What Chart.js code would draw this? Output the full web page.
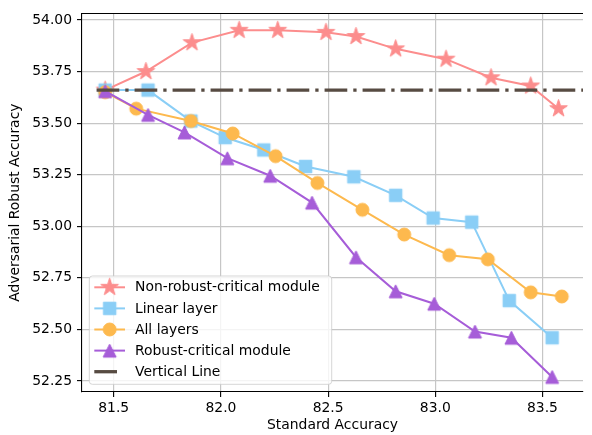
<!DOCTYPE html>
<html><head><meta charset="utf-8">
<script src="https://cdn.jsdelivr.net/npm/chart.js@4.4.1/dist/chart.umd.min.js"></script>
<style>html,body{margin:0;padding:0;background:#fff;overflow:hidden}#wrap{width:592px;height:435px}</style>
</head><body><div id="wrap"><canvas id="c" width="592" height="435"></canvas></div>
<script>
// ---- data ----
const seriesNames = ["Non-robust-critical module", "Linear layer", "All layers", "Robust-critical module", "Vertical Line"];
const starX = [81.46, 81.65, 81.865, 82.085, 82.265, 82.49, 82.63, 82.815, 83.05, 83.26, 83.445, 83.575];
const starY = [53.66, 53.75, 53.89, 53.95, 53.95, 53.94, 53.92, 53.86, 53.81, 53.72, 53.68, 53.57];
const linearX = [81.46, 81.66, 81.86, 82.02, 82.2, 82.395, 82.62, 82.815, 82.99, 83.17, 83.345, 83.545];
const linearY = [53.66, 53.66, 53.51, 53.43, 53.37, 53.29, 53.24, 53.15, 53.04, 53.02, 52.64, 52.46];
const allX = [81.46, 81.605, 81.86, 82.055, 82.255, 82.45, 82.66, 82.855, 83.065, 83.245, 83.445, 83.59];
const allY = [53.65, 53.57, 53.51, 53.45, 53.34, 53.21, 53.08, 52.96, 52.86, 52.84, 52.68, 52.66];
const robustX = [81.46, 81.66, 81.83, 82.03, 82.23, 82.425, 82.63, 82.815, 82.995, 83.185, 83.355, 83.545];
const robustY = [53.655, 53.54, 53.455, 53.33, 53.245, 53.115, 52.85, 52.685, 52.625, 52.49, 52.46, 52.27];
const refLineX = [81.42, 83.8];
const refLineY = [53.66, 53.66];
const xTicks = [81.5, 82.0, 82.5, 83.0, 83.5];
const yTicks = [52.25, 52.5, 52.75, 53.0, 53.25, 53.5, 53.75, 54.0];

// ---- styling ----
const FONT = "'DejaVu Sans', 'Liberation Sans', sans-serif";
const FS = 13.9;
const colors = ['#FC8D8D', '#8ACEF6', '#FDB94E', '#A65DD8', '#574B42'];

function markerCanvas(shape, color, size) {
  const pad = 2;
  const d = Math.ceil(size + pad * 2);
  const c = document.createElement('canvas');
  c.width = d; c.height = d;
  const g = c.getContext('2d');
  const cx = d / 2, cy = d / 2;
  g.fillStyle = color; g.strokeStyle = color; g.lineWidth = 1; g.lineJoin = 'miter';
  g.beginPath();
  if (shape === 'star') {
    const R = size / 2, r = R * 0.381966;
    for (let k = 0; k < 10; k++) {
      const a = -Math.PI / 2 + k * Math.PI / 5;
      const rr = k % 2 ? r : R;
      const px = cx + rr * Math.cos(a), py = cy + rr * Math.sin(a);
      if (k) g.lineTo(px, py); else g.moveTo(px, py);
    }
    g.closePath();
  } else if (shape === 'square') {
    g.rect(cx - size / 2, cy - size / 2, size, size);
  } else if (shape === 'circle') {
    g.arc(cx, cy, size / 2, 0, Math.PI * 2);
  } else if (shape === 'triangle') {
    g.moveTo(cx, cy - size / 2);
    g.lineTo(cx + size / 2, cy + size / 2);
    g.lineTo(cx - size / 2, cy + size / 2);
    g.closePath();
  }
  g.fill(); g.stroke();
  return c;
}
const markers = [
  markerCanvas('star', colors[0], 18.5),
  markerCanvas('square', colors[1], 12.5),
  markerCanvas('circle', colors[2], 13),
  markerCanvas('triangle', colors[3], 13),
  null
];

const pts = (xs, ys) => xs.map((x, i) => ({ x: x, y: ys[i] }));
const seriesX = [starX, linearX, allX, robustX, refLineX];
const seriesY = [starY, linearY, allY, robustY, refLineY];
const DASH = [22.7, 6, 3.3, 6];

const datasets = seriesNames.map((name, i) => {
  const isRef = i === 4;
  return {
    label: name,
    data: pts(seriesX[i], seriesY[i]),
    showLine: true,
    borderColor: colors[i],
    backgroundColor: colors[i],
    borderWidth: isRef ? 3.3 : 2,
    borderDash: isRef ? DASH : [],
    borderCapStyle: 'butt',
    pointStyle: isRef ? false : markers[i],
    pointRadius: isRef ? 0 : 7,
    pointHoverRadius: isRef ? 0 : 7,
    order: 4 - i,
    clip: 0
  };
});

const frameAndLegend = {
  id: 'frameAndLegend',
  afterDraw(chart) {
    const ctx = chart.ctx, ca = chart.chartArea;
    // top spine
    ctx.save();
    ctx.strokeStyle = '#000'; ctx.lineWidth = 1.1;
    ctx.beginPath(); ctx.moveTo(ca.left, Math.round(ca.top) + 0.5); ctx.lineTo(ca.right, Math.round(ca.top) + 0.5); ctx.stroke();
    // legend box
    const bw = 242.4, bh = 108.3;
    const bx = ca.left + 7.3, by = ca.bottom - 7.7 - bh;
    const rad = 3;
    ctx.beginPath();
    ctx.moveTo(bx + rad, by);
    ctx.arcTo(bx + bw, by, bx + bw, by + bh, rad);
    ctx.arcTo(bx + bw, by + bh, bx, by + bh, rad);
    ctx.arcTo(bx, by + bh, bx, by, rad);
    ctx.arcTo(bx, by, bx + bw, by, rad);
    ctx.closePath();
    ctx.fillStyle = 'rgba(255,255,255,0.8)';
    ctx.fill();
    ctx.strokeStyle = 'rgba(204,204,204,0.8)'; ctx.lineWidth = 1;
    ctx.stroke();
    ctx.font = FS + 'px ' + FONT;
    ctx.textBaseline = 'middle'; ctx.textAlign = 'left';
    seriesNames.forEach((name, i) => {
      const y = by + 11.3 + i * 21.1;
      const hx0 = bx + 5, hx1 = bx + 35.7, hc = (hx0 + hx1) / 2;
      ctx.strokeStyle = colors[i];
      if (i === 4) {
        ctx.lineWidth = 3.3;
        ctx.beginPath(); ctx.moveTo(hx0, y); ctx.lineTo(hx0 + 22.7, y); ctx.stroke();
      } else {
        ctx.lineWidth = 2;
        ctx.beginPath(); ctx.moveTo(hx0, y); ctx.lineTo(hx1, y); ctx.stroke();
        const m = markers[i];
        ctx.drawImage(m, hc - m.width / 2, y - m.height / 2);
      }
      ctx.fillStyle = '#000';
      ctx.fillText(name, bx + 45.7, y + 0.5);
    });
    ctx.restore();
  }
};

const tickFont = { family: FONT, size: FS };
new Chart(document.getElementById('c'), {
  type: 'scatter',
  data: { datasets },
  options: {
    responsive: false,
    devicePixelRatio: 1,
    animation: false,
    events: [],
    layout: { padding: { top: 11, right: 0, left: 0, bottom: 0 } },
    plugins: { legend: { display: false }, tooltip: { enabled: false } },
    scales: {
      x: {
        type: 'linear', position: 'bottom',
        min: 81.352, max: 83.689,
        afterBuildTicks: s => { s.ticks = xTicks.map(v => ({ value: v })); },
        afterFit: s => { s.height = 43; },
        ticks: { callback: v => Number(v).toFixed(1), font: tickFont, color: '#000', padding: 3, maxRotation: 0, autoSkip: false },
        grid: { color: '#c6c6c6', lineWidth: 1.2, tickLength: 5, tickColor: '#000', tickWidth: 1.1 },
        border: { color: '#000', width: 1.1 },
        title: { display: true, text: 'Standard Accuracy', font: tickFont, color: '#000', padding: { top: 0, bottom: 1.5 } }
      },
      y: {
        type: 'linear', position: 'left',
        min: 52.197, max: 54.032,
        afterBuildTicks: s => { s.ticks = yTicks.map(v => ({ value: v })); },
        afterFit: s => { s.width = 82; },
        ticks: { callback: v => Number(v).toFixed(2), font: tickFont, color: '#000', padding: 5, autoSkip: false },
        grid: { color: '#c6c6c6', lineWidth: 1.2, tickLength: 5, tickColor: '#000', tickWidth: 1.1 },
        border: { color: '#000', width: 1.1 },
        title: { display: true, text: 'Adversarial Robust Accuracy', font: tickFont, color: '#000', padding: { top: 7.5, bottom: 0 } }
      }
    }
  },
  plugins: [frameAndLegend]
});
</script>
</body></html>
